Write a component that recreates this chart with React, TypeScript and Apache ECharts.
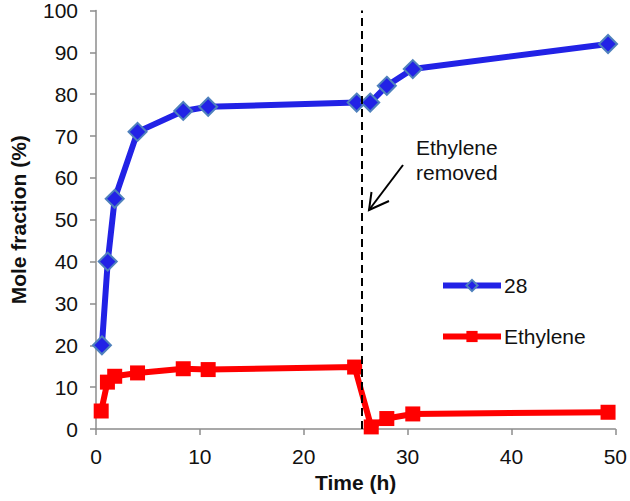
import React, { useEffect, useRef } from "react";
import * as echarts from "echarts";

const time28 = [0.57, 1.13, 1.8, 4.0, 8.4, 10.8, 25.1, 26.4, 28.0, 30.5, 49.3];
const values28 = [20, 40, 55, 71, 76, 77, 78, 78, 82, 86, 92];
const timeEthylene = [0.5, 1.1, 1.8, 4.0, 8.4, 10.8, 24.9, 26.5, 28.0, 30.5, 49.3];
const valuesEthylene = [4.3, 11.2, 12.6, 13.4, 14.4, 14.2, 14.8, 0.5, 2.5, 3.6, 4.0];
const removalTime = 25.6;
const seriesNames = ["28", "Ethylene"];
const annotation = "Ethylene\nremoved";

const FONT = "Liberation Sans, Arial, sans-serif";

export default function App() {
  const ref = useRef<HTMLDivElement>(null);
  useEffect(() => {
    if (!ref.current) return;
    const chart = echarts.init(ref.current, null, { renderer: "svg" });
    const axisCommon = {
      axisLine: { show: true, lineStyle: { color: "#8c8c8c", width: 1.5 } },
      axisTick: { show: true, inside: false, length: 6, lineStyle: { color: "#8c8c8c", width: 1.5 } },
      splitLine: { show: false },
      axisLabel: { color: "#111", fontSize: 21, fontFamily: FONT },
      nameTextStyle: { color: "#111", fontSize: 21, fontWeight: "bold", fontFamily: FONT },
    };
    chart.setOption({
      animation: false,
      backgroundColor: "#fff",
      grid: { left: 88, right: 13, top: 8, bottom: 72, containLabel: false },
      xAxis: {
        type: "value",
        min: 0,
        max: 50,
        interval: 10,
        name: "Time (h)",
        nameLocation: "middle",
        nameGap: 40,
        ...axisCommon,
        axisLabel: { ...axisCommon.axisLabel, margin: 17 },
      },
      yAxis: {
        type: "value",
        min: 0,
        max: 100,
        interval: 10,
        name: "Mole fraction (%)",
        nameLocation: "middle",
        nameGap: 67,
        ...axisCommon,
        axisLabel: { ...axisCommon.axisLabel, margin: 18 },
      },
      legend: {
        orient: "vertical",
        left: 435,
        top: 270,
        itemWidth: 58,
        itemHeight: 14,
        itemGap: 30,
        lineStyle: { width: 6 },
        textStyle: { color: "#111", fontSize: 21, fontFamily: FONT, padding: [0, 0, 0, -2] },
        data: seriesNames,
      },
      series: [
        {
          name: seriesNames[0],
          type: "line",
          data: time28.map((t, i) => [t, values28[i]]),
          symbol: "diamond",
          symbolSize: 18,
          lineStyle: { color: "#2222e6", width: 6 },
          itemStyle: { color: "#2222e6", borderColor: "#4f81bd", borderWidth: 2 },
          z: 3,
        },
        {
          name: seriesNames[1],
          type: "line",
          data: timeEthylene.map((t, i) => [t, valuesEthylene[i]]),
          symbol: "rect",
          symbolSize: 15,
          lineStyle: { color: "#ff0000", width: 6 },
          itemStyle: { color: "#ff0000" },
          z: 2,
          markLine: {
            silent: true,
            symbol: "none",
            label: { show: false },
            lineStyle: { color: "#000", type: [8, 5], width: 2 },
            data: [{ xAxis: removalTime }],
            z: 5,
          },
        },
      ],
      graphic: [
        {
          type: "text",
          left: 416,
          top: 135,
          style: { text: annotation, fill: "#111", fontSize: 21, fontFamily: FONT, lineHeight: 25 },
        },
        {
          type: "line",
          shape: { x1: 403, y1: 165, x2: 369, y2: 210 },
          style: { stroke: "#000", lineWidth: 2 },
        },
        {
          type: "polyline",
          shape: { points: [[371.5, 192], [369, 210], [389, 201]] },
          style: { stroke: "#000", lineWidth: 2, fill: null },
        },
      ],
    });
    return () => chart.dispose();
  }, []);
  return (
    <div
      ref={ref}
      style={{ position: "absolute", left: 0, top: 0, width: 630, height: 501 }}
    />
  );
}
